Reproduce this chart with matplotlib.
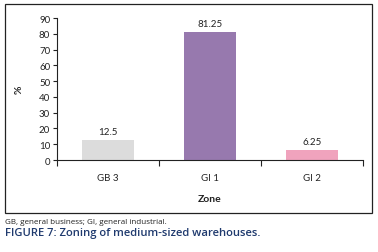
import matplotlib.pyplot as plt
import matplotlib.patches as patches

zones = ['GB 3', 'GI 1', 'GI 2']
shares = [12.5, 81.25, 6.25]
share_labels = ['12.5', '81.25', '6.25']
colors = ['#dcdcdc', '#9779ae', '#f0a3bd']

plt.rcParams['font.family'] = ['Lato', 'DejaVu Sans']

fig = plt.figure(figsize=(3.78, 2.53), dpi=100)

# outer chart frame
fig.patches.append(patches.Rectangle((0.0132, 0.154), 0.971, 0.826, transform=fig.transFigure,
                                     fill=False, edgecolor='#222222', linewidth=0.9))

ax = fig.add_axes([0.151, 0.3636, 0.809, 0.561])
x = range(len(zones))
ax.bar(x, shares, width=0.51, color=colors)
for i, (v, s) in enumerate(zip(shares, share_labels)):
    ax.text(i, v + 2.5, s, ha='center', va='bottom', fontsize=7, color='#222222')

ax.set_xlim(-0.5, 2.5)
ax.set_ylim(0, 90)
ax.set_yticks(range(0, 91, 10))
ax.set_xticks(list(x))
ax.set_xticklabels(zones)
ax.set_xticks([-0.5, 0.5, 1.5, 2.5], minor=True)
ax.tick_params(axis='x', which='major', length=0, labelsize=7, pad=9, colors='#222222')
ax.tick_params(axis='x', which='minor', length=4, width=0.8, color='#222222')
ax.tick_params(axis='y', length=3, width=0.8, labelsize=7, pad=2, colors='#222222')
for side in ['top', 'right']:
    ax.spines[side].set_visible(False)
for side in ['left', 'bottom']:
    ax.spines[side].set_linewidth(0.8)
    ax.spines[side].set_color('#222222')

ax.set_ylabel('%', fontsize=7.5, fontweight='bold', color='#222222', labelpad=11)
ax.set_xlabel('Zone', fontsize=7.5, fontweight='bold', color='#222222', labelpad=9)

fig.text(0.013, 0.115, 'GB, general business; GI, general industrial.', fontsize=5.8,
         color='#222222', family=['Open Sans', 'DejaVu Sans'])
fig.text(0.013, 0.066, 'FIGURE 7: Zoning of medium-sized warehouses.', fontsize=8.1,
         color='#1f3a6e', fontweight='semibold', family=['Open Sans', 'DejaVu Sans'])

fig.savefig('out.png', dpi=100)
